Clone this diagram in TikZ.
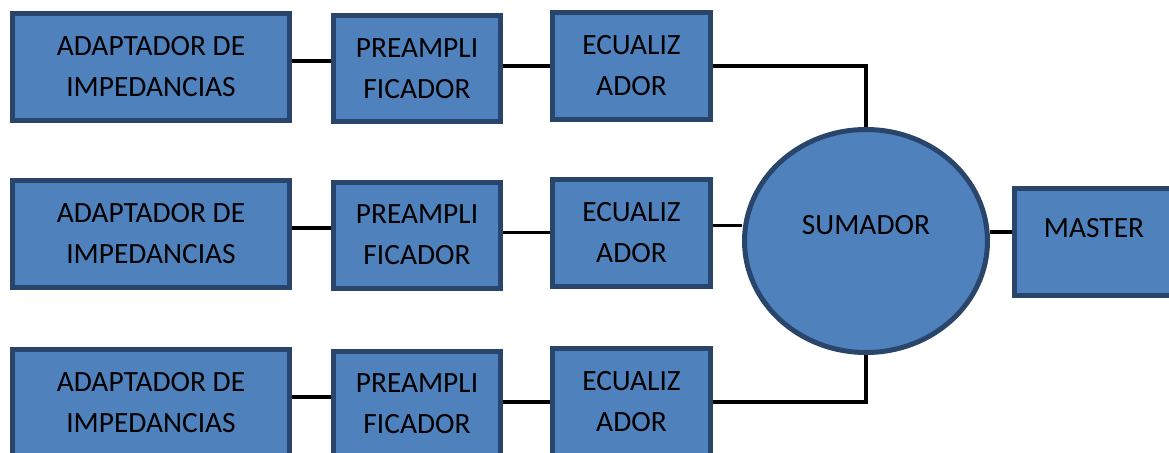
\documentclass[tikz,border=0pt]{standalone}
\usepackage{fontspec}
\setmainfont{Carlito}
\usetikzlibrary{shapes.geometric}
\definecolor{relleno}{HTML}{4F81BD}
\definecolor{borde}{HTML}{2A456B}

\begin{document}
\begin{tikzpicture}[x=0.5pt, y=-0.5pt,
  bloque/.style={draw=borde, fill=relleno, line width=2.5pt, inner sep=0pt, align=center,
    font=\fontsize{14.7}{20.5}\selectfont},
  enlace/.style={line width=1.6pt, black}]
\clip (0,0) rectangle (1169,452);
\fill[white] (0,0) rectangle (1169,452);

\node[bloque, minimum width=138.5pt, minimum height=53.5pt] (A1) at (151,67) {ADAPTADOR DE\\IMPEDANCIAS};
\node[bloque, minimum width=138.5pt, minimum height=53.5pt] (A2) at (151,234) {ADAPTADOR DE\\IMPEDANCIAS};
\node[bloque, minimum width=138.5pt, minimum height=53.5pt] (A3) at (151,403) {ADAPTADOR DE\\IMPEDANCIAS};

\node[bloque, minimum width=83.5pt, minimum height=53pt] (P1) at (417,68.5) {PREAMPLI\\FICADOR};
\node[bloque, minimum width=83.5pt, minimum height=53pt] (P2) at (417,235) {PREAMPLI\\FICADOR};
\node[bloque, minimum width=83.5pt, minimum height=53pt] (P3) at (417,404) {PREAMPLI\\FICADOR};

\node[bloque, minimum width=79pt, minimum height=53.5pt] (E1) at (631.5,66) {ECUALIZ\\ADOR};
\node[bloque, minimum width=79pt, minimum height=53.5pt] (E2) at (631.5,232.5) {ECUALIZ\\ADOR};
\node[bloque, minimum width=79pt, minimum height=53.5pt] (E3) at (631.5,402) {ECUALIZ\\ADOR};

\node[bloque, ellipse, minimum width=121.5pt, minimum height=111.5pt,
  text height=9pt, text depth=16pt] (S) at (866,241) {SUMADOR};
\node[bloque, minimum width=79.5pt, minimum height=53.5pt,
  text height=9pt, text depth=14pt] (M) at (1094,242) {MASTER};

\draw[enlace] ([yshift=3pt]A1.east) -- ([yshift=3pt]A1.east -| P1.west);
\draw[enlace] (P1.east |- E1.west) -- (E1.west);
\draw[enlace] (E1.east) -| (S.north);

\draw[enlace] ([yshift=3pt]A2.east) -- ([yshift=3pt]A2.east -| P2.west);
\draw[enlace] (P2.east |- E2.west) -- (E2.west);
\draw[enlace] ([yshift=3.5pt]E2.east) -- ([yshift=3.5pt]E2.east -| S.west);

\draw[enlace] ([yshift=3pt]A3.east) -- ([yshift=3pt]A3.east -| P3.west);
\draw[enlace] (P3.east |- E3.west) -- (E3.west);
\draw[enlace] (E3.east) -| (S.south);

\draw[enlace] ([yshift=4.5pt]S.east) -- ([yshift=4.5pt]S.east -| M.west);
\end{tikzpicture}
\end{document}
